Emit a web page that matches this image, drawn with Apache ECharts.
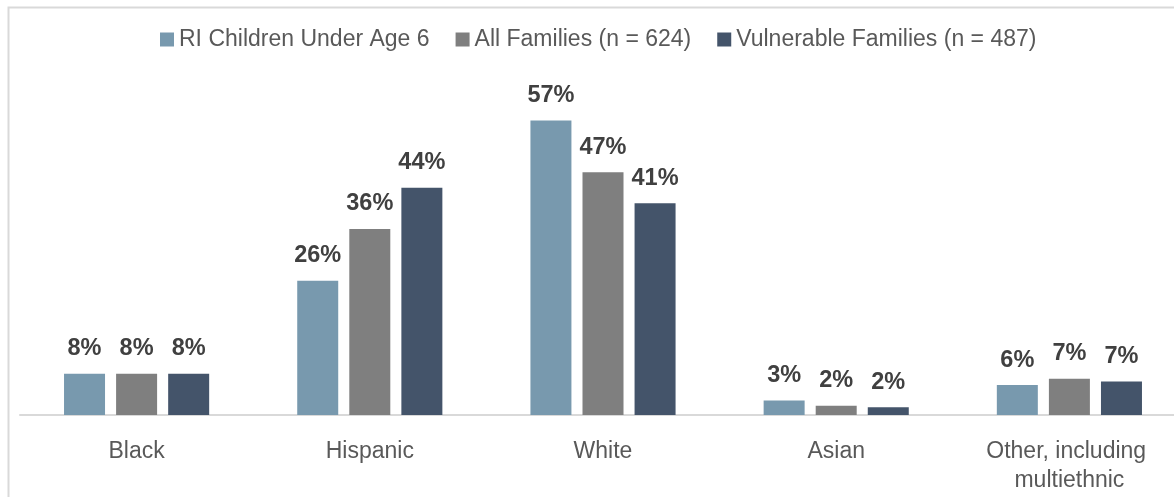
<!DOCTYPE html>
<html>
<head>
<meta charset="utf-8">
<script src="https://cdn.jsdelivr.net/npm/echarts@6/dist/echarts.min.js"></script>
<style>
html,body{margin:0;padding:0;background:#fff;}
#chart{width:1174px;height:497px;}
</style>
</head>
<body>
<div id="chart"></div>
<script>
const categories = ["Black", "Hispanic", "White", "Asian", "Other, including multiethnic"];
const seriesNames = ["RI Children Under Age 6", "All Families (n = 624)", "Vulnerable Families (n = 487)"];
const riChildren = [8, 26, 57, 2.8, 5.8];
const allFamilies = [8, 36, 47, 1.8, 7.0];
const vulnerableFamilies = [8, 44, 41, 1.5, 6.5];
const colors = ["#7899AE", "#7F7F7F", "#44546A"];

const FONT = "'Liberation Sans', Arial, sans-serif";
const chart = echarts.init(document.getElementById('chart'), null, {renderer: 'canvas'});
const seriesData = [riChildren, allFamilies, vulnerableFamilies];
chart.setOption({
  animation: false,
  backgroundColor: '#ffffff',
  graphic: [{
    type: 'rect', left: 6, top: 5, z: 100,
    shape: {x: 0, y: 0, width: 1300, height: 600},
    style: {fill: 'none', stroke: '#D9D9D9', lineWidth: 2}
  }],
  legend: {
    top: 23, left: 155,
    itemWidth: 14, itemHeight: 14, itemGap: 26,
    icon: 'rect',
    textStyle: {fontFamily: FONT, fontSize: 23, color: '#595959', padding: [0, 0, 0, 0]},
    data: seriesNames
  },
  grid: {left: 20, width: 1166, top: 105, bottom: 82, containLabel: false, outerBoundsMode: 'none'},
  xAxis: {
    type: 'category', data: categories,
    axisLine: {lineStyle: {color: '#D9D9D9', width: 2}},
    axisTick: {show: false},
    axisLabel: {fontFamily: FONT, fontSize: 23, color: '#595959', margin: 22, lineHeight: 29,
      width: 200, overflow: 'break', interval: 0}
  },
  yAxis: {type: 'value', min: 0, max: 60, show: false, splitLine: {show: false}},
  series: seriesData.map((d, i) => ({
    name: seriesNames[i], type: 'bar', data: d,
    barWidth: 41, barGap: '27%',
    itemStyle: {color: colors[i]},
    label: {show: true, position: 'top', distance: 13,
      formatter: p => Math.round(p.value) + '%',
      fontFamily: FONT, fontSize: 23.5, fontWeight: 'bold', color: '#404040'}
  }))
});
</script>
</body>
</html>
